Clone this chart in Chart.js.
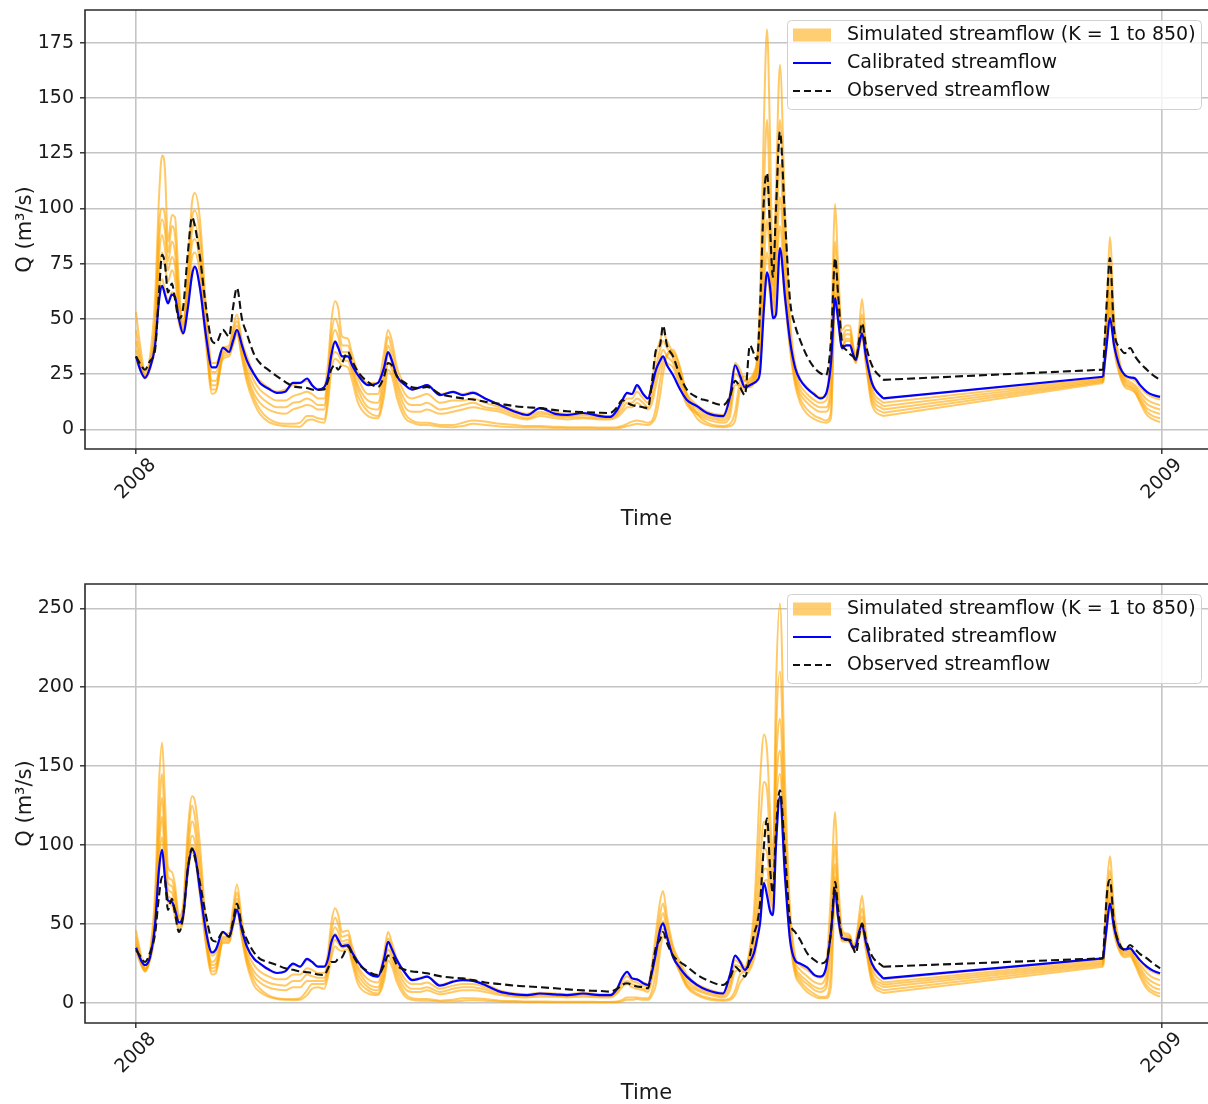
<!DOCTYPE html>
<html>
<head>
<meta charset="utf-8">
<script src="https://cdn.jsdelivr.net/npm/chart.js@4.4.1/dist/chart.umd.min.js"></script>
<style>
  html, body { margin: 0; padding: 0; background: #fff; overflow: hidden; }
  .panel { position: absolute; left: 0; width: 1208px; height: 530px; }
</style>
</head>
<body>
<div class="panel" style="top:0"><canvas id="topChart"></canvas></div>
<div class="panel" style="top:574px"><canvas id="botChart"></canvas></div>
<script>
// day of year 2008 (0 = 1 Jan 2008), common to every series
const days = [
  0, 1.8, 3.2, 5.0, 6.8, 8.2, 9.3, 10.3, 11.4, 12.8,
  13.9, 15.3, 16.8, 18.5, 20.0, 21.0, 22.8, 25.0, 27.1, 28.5,
  31.0, 33.2, 34.6, 36.0, 37.8, 39.6, 42.1, 44.2, 47.1, 50.3,
  53.2, 56.0, 58.5, 61.0, 62.8, 64.9, 67.1, 68.5, 69.6, 71.0,
  72.1, 73.5, 75.6, 77.1, 79.2, 82.8, 86.3, 88.5, 89.9, 91.3,
  93.1, 96.0, 98.5, 101.3, 103.8, 108.4, 113.1, 116.6, 120.2, 124.5,
  129.8, 135.2, 139.5, 144.1, 149.5, 153.7, 159.5, 165.5, 169.1, 171.6,
  173.4, 175.2, 176.9, 178.7, 180.9, 182.6, 184.1, 185.5, 186.9, 188.0,
  189.4, 191.6, 194.1, 196.5, 200.1, 203.7, 209.4, 211.9, 213.7, 215.5,
  217.2, 219.0, 220.5, 221.5, 222.6, 224.0, 225.1, 226.2, 227.2, 228.3,
  229.7, 231.5, 233.3, 235.1, 236.9, 239.4, 242.2, 244.0, 246.1, 247.9,
  249.4, 250.4, 251.9, 253.3, 254.7, 255.8, 256.8, 257.9, 259.0, 260.4,
  262.5, 266.5, 345.0, 346.4, 347.4, 348.9, 351.0, 352.8, 354.6, 356.4,
  358.2, 360.6, 362.8, 365.3
];
// record gap (no data between these two days, drawn as a straight link)
const gapStart = 266.5;
const gapEnd = 345.0;

const xTickDays = [0, 366];
const xTickText = ['2008', '2009'];
const yTicksTop = [0, 25, 50, 75, 100, 125, 150, 175];
const yTicksBot = [0, 50, 100, 150, 200, 250];
const legendLabels = ['Simulated streamflow (K = 1 to 850)', 'Calibrated streamflow', 'Observed streamflow'];

// ---------- top panel ----------
const obsTop = [
  33, 29, 27, 31, 36, 62, 79, 75, 62, 66,
  59, 50, 55, 80, 96, 92, 78, 55, 40, 39,
  45, 42, 55, 64, 50, 43, 34, 30, 27, 24,
  21.5, 19.5, 19, 18.7, 18, 17.8, 18, 22, 27, 29,
  27, 30, 35, 31, 26, 21.4, 19.2, 24, 30, 29,
  24, 21, 19, 18.7, 19.2, 16, 14.7, 14, 13.5, 12.5,
  11.5, 10.5, 10, 9.6, 8.7, 8.2, 7.8, 7.5, 7.4, 10,
  13.3, 12, 11, 10.5, 10, 9.6, 22, 36, 38, 47,
  38, 33, 24, 18, 14.5, 13, 11, 15, 22, 19,
  15.5, 38, 34, 31.4, 55, 105, 116, 90, 69, 100,
  134.6, 95, 58.5, 47, 40.4, 33, 27.5, 25.5, 24.5, 40,
  77.5, 62, 39, 36, 34, 33, 31.4, 40, 48, 38,
  29, 22.4, 27, 60, 77.5, 45, 37, 34.5, 36.8, 33,
  30, 27, 24.5, 22.4
];
const calTop = [
  33, 26, 23.3, 28, 38, 58, 65, 61, 57, 61,
  60, 50, 43.5, 55, 70, 73.5, 64, 42, 28, 28,
  37, 35, 40, 45, 38, 31, 25, 21, 18.5, 16.5,
  17, 21, 21, 23, 20, 18, 19, 24, 33, 39.7,
  37, 33, 33, 29, 24.5, 20, 21, 28, 35, 31,
  24, 20, 18, 19, 20, 15.5, 17, 15.5, 16.5, 14,
  11, 8, 6.5, 9.6, 7, 6.5, 7.4, 6, 5.6, 8.7,
  13, 16.5, 16, 20, 16, 14, 20, 27, 31, 33,
  29, 24.5, 18, 13.3, 10.5, 7.4, 6, 15, 29, 24,
  19, 20, 21, 22, 26, 55, 71, 64, 50.3, 52,
  82, 60, 40, 28, 22.4, 18.5, 15.5, 14, 16, 30,
  59.4, 50, 36.8, 38, 38, 34, 31.4, 38, 43.5, 33,
  21, 14, 23.8, 40, 50.3, 38, 28, 24.5, 23.5, 23,
  20, 17, 15.5, 14.7
];
const simTop1 = [
  53, 35, 26, 33, 60, 105, 124, 118, 85, 97,
  96, 66, 48, 75, 103, 107, 95, 55, 30, 30,
  37, 38, 46, 52, 40, 33, 25, 22, 19, 17,
  18, 20, 21, 22, 20, 18, 19, 30, 48, 58,
  55, 42, 41, 34, 26, 21, 21, 35, 45, 40,
  28, 20, 18, 19, 20, 16, 17, 16, 17, 14,
  11, 8.5, 7, 9.5, 7.5, 7, 7.5, 6.5, 6, 8,
  13, 16, 16, 19, 16, 14, 22, 34, 40, 44,
  40, 34, 25, 16, 11, 8, 6.5, 16, 30, 27,
  22, 23, 26, 32, 60, 140, 181, 130, 70, 110,
  165, 100, 50, 30, 23, 19, 16, 14.5, 16, 40,
  102, 75, 45, 47, 47, 38, 33, 45, 59, 38,
  22, 14, 23.5, 60, 87, 50, 30, 24, 23, 22,
  19, 16, 14.5, 13.5
];
const simTop2 = [
  45, 31, 25, 30, 50, 92, 100, 97, 80, 92,
  88, 60, 47, 70, 96, 99, 88, 50, 26, 26,
  36, 37, 44, 49, 38, 30, 22, 18, 15, 13,
  13, 15, 16, 17, 16, 14, 14, 25, 42, 50,
  47, 38, 38, 31, 23, 16, 16, 30, 42, 36,
  25, 16, 14, 15, 16, 12, 13, 13, 14, 12,
  10, 7.5, 6, 8, 6.5, 6, 6.5, 5.5, 5.5, 7,
  11, 14, 14, 17, 14, 12, 18, 28, 36, 40,
  37, 32, 23, 14, 9.5, 6.5, 5, 12, 28, 25,
  20, 22, 25, 30, 50, 110, 140, 100, 65, 95,
  140, 85, 45, 27, 20, 16, 13, 12, 13, 30,
  85, 65, 42, 45, 45, 37, 32, 42, 52, 35,
  19, 12, 23, 52, 75, 46, 28, 23, 21.5, 20,
  17, 13.5, 12, 11
];
const simTop3 = [
  40, 29, 24, 29, 46, 85, 95, 90, 76, 85,
  80, 57, 46, 66, 90, 93, 80, 45, 22, 22,
  35, 36, 42, 47, 36, 27, 19, 15, 12, 10,
  10, 12, 12.5, 14, 13, 11, 11, 22, 38, 45,
  42, 35, 35, 29, 20, 13, 12, 26, 38, 32,
  22, 13, 11, 11, 12, 9, 10, 11, 12, 10,
  9, 6.5, 5, 7, 6, 5.5, 5.5, 5, 5, 6.5,
  9, 12, 12, 14, 12, 10, 15, 24, 32, 36,
  33, 30, 21, 12, 8, 5.5, 4, 9, 25, 23,
  19, 21, 24, 28, 42, 90, 115, 85, 60, 85,
  120, 75, 42, 25, 18, 14, 11, 10, 10, 22,
  75, 60, 40, 43, 43, 36, 31.5, 40, 48, 33,
  17, 10.5, 22.5, 48, 68, 42, 27, 22, 20.5, 19,
  15.5, 11.5, 10, 9
];
const simTop4 = [
  36, 28, 24, 28, 43, 78, 88, 82, 72, 78,
  74, 55, 45, 63, 84, 86, 75, 42, 20, 20,
  34, 35, 40, 45, 35, 25, 16, 12, 9, 7.5,
  7, 9, 10, 11, 10.5, 9, 9, 20, 35, 40,
  38, 33, 33, 27, 18, 10, 9, 22, 34, 30,
  20, 10, 8, 8, 9, 7, 8, 9, 10, 9,
  8, 5.5, 4.5, 6, 5, 4.5, 5, 4.5, 4.5, 5.5,
  7.5, 10, 10, 12, 10, 9, 12, 20, 28, 32,
  30, 28, 19, 11, 7, 4.5, 3, 6, 20, 20,
  18, 20, 23, 26, 36, 75, 95, 75, 56, 75,
  105, 68, 40, 23, 16, 12, 9, 8, 8, 16,
  68, 55, 38, 41, 41, 35, 31, 38, 45, 31,
  15, 9, 22, 44, 62, 40, 26, 21, 19.5, 18,
  14, 9.5, 8, 7
];
const simTop5 = [
  33, 27, 24, 28, 40, 70, 80, 74, 67, 72,
  68, 52, 44, 60, 78, 80, 70, 40, 18, 18,
  33, 34, 39, 44, 33, 23, 14, 9, 5, 3,
  2.5, 2.5, 3, 6, 6, 5, 4.5, 15, 30, 35,
  34, 31, 31, 25, 15, 8, 6, 18, 30, 27,
  17, 7, 4, 3, 3, 2, 2, 3, 4, 3.5,
  2.5, 2, 1.5, 1.5, 1.2, 1, 1, 0.8, 0.8, 1,
  1.5, 2.5, 3.5, 4, 3.5, 3, 4, 10, 22, 30,
  34, 36, 28, 16, 7, 3, 1.5, 2.5, 8, 22,
  24, 20, 22, 25, 32, 65, 80, 68, 52, 68,
  92, 62, 38, 22, 14, 9, 6, 5, 4, 8,
  62, 52, 37, 40, 40, 34, 30.5, 37, 43, 30,
  13, 7.5, 21.5, 42, 58, 38, 25, 20, 19, 17,
  13, 8, 6, 5
];
const simTop6 = [
  31, 26, 23, 27, 38, 62, 68, 63, 58, 62,
  60, 48, 43, 56, 72, 74, 64, 38, 16, 17,
  32, 33, 38, 43, 32, 21, 12, 7, 3.5, 2,
  1.5, 1.3, 1.2, 4, 4.5, 3.5, 3, 12, 26, 32,
  31, 29, 28, 22, 12, 6, 5, 15, 27, 24,
  14, 5, 3, 2, 2, 1.2, 1, 1.5, 2.5, 2,
  1.3, 1, 0.8, 0.8, 0.6, 0.5, 0.5, 0.4, 0.4, 0.5,
  0.8, 1.5, 2, 2.5, 2.2, 2, 3, 6, 15, 25,
  33, 35, 27, 14, 5, 2, 1, 1.5, 4, 18,
  22, 19, 21, 24, 28, 55, 70, 60, 50, 60,
  80, 58, 36, 20, 12, 7, 4.5, 3.5, 3, 5,
  58, 50, 36, 38, 38, 33, 30, 36, 42, 29,
  11, 6, 21, 40, 55, 36, 24, 19, 18, 16.5,
  12, 6.5, 4.5, 3.3
];

// ---------- bottom panel ----------
const obsBot = [
  33.5, 29, 26, 32, 44, 68, 80, 78, 59, 66,
  57, 45, 55, 85, 98, 92, 76, 55, 40, 39,
  45, 42, 52, 63, 48, 40, 32, 28, 26, 24,
  22, 21, 20, 19.5, 19, 18, 17.7, 22, 26, 26,
  28, 29, 35.6, 31, 25, 20, 17.7, 24, 30, 30,
  24, 21, 20, 19.5, 18.8, 17, 16, 15.6, 14.5, 13,
  12, 11, 10.5, 10, 9.3, 8.7, 8, 7.6, 7.2, 9,
  11.5, 12.5, 11.5, 10.5, 10, 9.3, 22, 35.6, 40, 45,
  38, 30, 26, 23, 18, 14.5, 11.4, 16, 23, 20,
  16.7, 30, 44, 50, 63, 100, 117, 85, 69.6, 110,
  134.8, 95, 52, 45, 40, 31.6, 27, 25, 26.5, 45,
  76.8, 60, 42, 40, 40, 35, 31.4, 42, 50.4, 40,
  30, 23, 28.3, 70, 78, 50, 37, 33.5, 36.7, 34,
  31, 28.3, 25, 22
];
const calBot = [
  35, 27, 24, 29, 50, 85, 97, 80, 65, 64,
  59, 51, 55, 85, 97, 94, 71.5, 45, 32, 34,
  45, 42, 50, 59, 46, 35.6, 28, 25, 21.5, 19,
  20, 25, 23, 28, 26, 23, 23, 28, 38, 43,
  40, 36, 36.7, 32, 26, 19, 16.7, 28, 38.8, 34,
  27, 19, 14.5, 15.5, 16.7, 11, 13.5, 14.5, 14, 11.4,
  7.2, 5.5, 5, 6, 5.5, 5, 6, 5, 5, 9,
  16, 19.8, 15.6, 15, 12.5, 11.4, 20, 32, 46, 50.4,
  42, 29, 22, 16.7, 11.5, 8.2, 6, 18, 30, 26,
  21, 26, 32, 40, 50.4, 76, 68, 58, 55.7, 100,
  131, 80, 40, 27, 25, 22.5, 17.5, 16.7, 22, 45,
  71.5, 55, 41, 40.5, 39, 35, 36, 45, 49.4, 38,
  25, 15.6, 28.3, 50, 63, 48, 35.6, 34, 34.6, 31,
  27, 23, 20.5, 18.8
];
const simBot1 = [
  46, 30, 22, 33, 70, 140, 165, 130, 86, 83,
  75, 55, 62, 110, 131, 128, 100, 50, 30, 32,
  44, 44, 60, 75, 52, 36, 28, 25, 21, 19,
  20, 24, 23, 27, 26, 23, 23, 32, 50, 60,
  56, 45, 46, 36, 26, 19, 17, 32, 45, 38,
  28, 19, 15, 16, 17, 11.5, 14, 15, 14.5, 12,
  8, 6, 5.5, 6.5, 6, 5.5, 6.5, 5.5, 5.5, 9,
  16, 19, 16, 15, 13, 12, 25, 45, 64, 71,
  55, 36, 26, 18, 12, 9, 6.5, 18, 30, 27,
  23, 35, 60, 95, 140, 170, 160, 120, 90, 200,
  253, 140, 60, 30, 24, 21, 17, 16, 22, 70,
  121, 80, 46, 44, 43, 37, 40, 55, 68, 44,
  25, 15, 28, 75, 93, 58, 38, 34, 35, 31,
  27, 22, 19.5, 18
];
const simBot2 = [
  42, 28, 22, 31, 62, 120, 145, 112, 80, 78,
  70, 53, 60, 102, 125, 118, 90, 45, 26, 28,
  42, 42, 56, 70, 48, 33, 24, 20, 17, 15,
  15, 18, 18, 22, 21, 19, 19, 28, 44, 54,
  50, 42, 43, 33, 23, 15, 13, 28, 41, 35,
  25, 15, 12, 12, 13, 9, 11, 12, 12, 10,
  7, 5, 4.8, 5.5, 5, 4.8, 5.5, 4.8, 4.8, 8,
  14, 17, 14, 13, 11, 10, 21, 38, 56, 63,
  50, 34, 24, 16, 10.5, 7.5, 5.5, 14, 27, 25,
  22, 32, 50, 75, 110, 140, 135, 100, 80, 170,
  210, 120, 52, 27, 21, 17, 13, 12, 17, 55,
  100, 70, 44, 43, 42, 36, 38, 50, 60, 41,
  22, 13, 27, 68, 84, 54, 36, 33, 33.5, 29,
  24.5, 19, 16, 14.5
];
const simBot3 = [
  39, 27, 21, 30, 56, 108, 130, 100, 76, 74,
  66, 51, 58, 96, 115, 110, 82, 42, 24, 25,
  41, 41, 54, 66, 46, 30, 20, 16, 13, 11.5,
  11, 14, 14, 18, 17, 16, 16, 25, 40, 48,
  45, 39, 40, 31, 21, 12, 10, 24, 38, 32,
  22, 12, 9, 9, 10, 7, 9, 10, 10, 8.5,
  6, 4.5, 4.2, 5, 4.5, 4.2, 5, 4.2, 4.2, 7,
  12, 14, 12, 11, 9, 8.5, 18, 33, 50, 57,
  46, 32, 22, 14, 9, 6.5, 4.5, 11, 24, 23,
  21, 28, 42, 60, 88, 115, 110, 85, 72, 150,
  180, 105, 48, 24, 18, 14, 10, 9, 12, 45,
  88, 64, 42, 42, 41, 35.5, 37, 47, 55, 39,
  19, 11.5, 26, 62, 76, 51, 35, 32, 32.5, 27.5,
  22.5, 16, 13, 11
];
const simBot4 = [
  37, 26, 21, 29, 52, 98, 118, 92, 72, 70,
  62, 50, 56, 90, 106, 102, 76, 40, 22, 23,
  40, 40, 52, 62, 44, 28, 17, 13, 10, 8.5,
  8, 10, 10, 14, 14, 14, 14, 23, 36, 44,
  41, 37, 38, 29, 18, 10, 8, 20, 34, 29,
  19, 9, 7, 7, 8, 5.5, 7, 8, 8, 7,
  5, 4, 3.5, 4, 4, 3.5, 4, 3.5, 3.5, 6,
  10, 12, 10, 9, 8, 7, 15, 28, 45, 52,
  43, 30, 20, 12, 8, 5.5, 3.5, 8, 20, 21,
  20, 25, 36, 50, 72, 98, 95, 75, 65, 135,
  160, 95, 45, 22, 16, 12, 8, 7, 9, 35,
  80, 60, 41, 41, 40, 35, 36, 45, 51, 37,
  17, 10, 25, 56, 70, 48, 34, 31, 31.5, 26,
  20.5, 13.5, 10, 8.5
];
const simBot5 = [
  35, 25, 20, 28, 48, 90, 105, 85, 68, 66,
  58, 48, 54, 86, 100, 96, 72, 38, 20, 21,
  39, 39, 50, 60, 42, 26, 14, 9, 5, 3,
  2.5, 2.5, 3, 8, 12, 12, 12, 20, 32, 40,
  38, 35, 36, 27, 15, 8, 6, 17, 30, 26,
  16, 6, 3, 2.5, 2.5, 1.5, 2, 3, 3, 2.5,
  1.5, 1.2, 1, 1, 0.8, 0.8, 0.8, 0.7, 0.7, 1,
  2, 3.5, 3.5, 3.5, 3, 3, 8, 20, 40, 47,
  42, 30, 20, 11, 6, 3.5, 2, 3, 8, 18,
  20, 23, 32, 43, 60, 85, 85, 68, 60, 122,
  145, 88, 42, 20, 14, 9, 5.5, 4, 4, 20,
  74, 56, 40, 40, 39, 34.5, 35, 43, 48, 35,
  15, 8, 24, 52, 66, 46, 33, 30, 30.5, 25,
  18.5, 11, 7.5, 6
];
const simBot6 = [
  33, 24, 20, 27, 45, 82, 95, 78, 64, 62,
  55, 46, 52, 82, 95, 92, 68, 36, 18, 19,
  38, 38, 48, 58, 40, 24, 11, 7, 4, 2.5,
  2, 1.8, 2, 5, 9, 10, 9, 17, 28, 36,
  34, 33, 34, 25, 12, 6, 5, 14, 27, 23,
  13, 4, 2, 1.5, 1.5, 1, 1, 1.5, 1.8, 1.5,
  1, 0.8, 0.6, 0.6, 0.5, 0.5, 0.5, 0.4, 0.4, 0.5,
  1, 2, 2, 2.5, 2, 2, 5, 12, 32, 42,
  40, 29, 19, 10, 5, 2.5, 1.5, 2, 5, 13,
  17, 21, 28, 38, 52, 76, 78, 60, 56, 110,
  130, 82, 40, 18, 12, 7, 4, 3, 3, 10,
  70, 53, 39, 39, 38, 34, 34, 41, 46, 33,
  13, 6.3, 23, 48, 62, 44, 32, 29, 29.5, 24,
  16.5, 9, 6, 4
];

Chart.defaults.font.family = "'DejaVu Sans', sans-serif";
Chart.defaults.color = '#1a1a1a';

const ORANGE = 'rgba(255,165,0,0.6)';
const ORANGE_PATCH = 'rgba(255,165,0,0.55)';
const BLUE = '#0000ff';
const BLACK = '#111';
const GRID = '#c4c4c4';
const AXIS = '#2a2a2a';

const gapA = days.indexOf(gapStart);
const gapB = days.indexOf(gapEnd);

function pts(vals, from, to) {
  const out = [];
  for (let i = from; i <= to; i++) out.push({ x: days[i], y: vals[i] });
  return out;
}

// one series -> smooth part before the gap, smooth part after, straight link across
function addSeries(list, vals, style) {
  list.push(Object.assign({ data: pts(vals, 0, gapA), cubicInterpolationMode: 'monotone' }, style));
  list.push(Object.assign({ data: pts(vals, gapB, days.length - 1), cubicInterpolationMode: 'monotone' }, style));
  list.push(Object.assign({ data: pts(vals, gapA, gapB), tension: 0 }, style));
}

// matplotlib-like box around the axes (drawn over the lines)
const framePlugin = {
  id: 'frame',
  afterDatasetsDraw(chart) {
    const { ctx, chartArea: a } = chart;
    ctx.save();
    ctx.strokeStyle = AXIS;
    ctx.lineWidth = 1.6;
    ctx.beginPath();
    ctx.moveTo(a.right, a.top);
    ctx.lineTo(a.left, a.top);
    ctx.lineTo(a.left, a.bottom);
    ctx.lineTo(a.right, a.bottom);
    ctx.stroke();
    ctx.restore();
  }
};

// framed legend in the upper right corner
const legendPlugin = {
  id: 'boxLegend',
  afterDraw(chart) {
    const ctx = chart.ctx;
    const bx = 787, by = 20, bw = 414, bh = 89;
    ctx.save();
    ctx.beginPath();
    ctx.roundRect(bx + 0.5, by + 0.5, bw, bh, 4);
    ctx.fillStyle = 'rgba(255,255,255,0.8)';
    ctx.fill();
    ctx.strokeStyle = '#d0d0d0';
    ctx.lineWidth = 1;
    ctx.stroke();

    const hx = 793, hw = 38, tx = 847;
    const rows = [35, 63, 91];
    ctx.fillStyle = ORANGE_PATCH;
    ctx.fillRect(hx, rows[0] - 6.5, hw, 13);
    ctx.strokeStyle = BLUE;
    ctx.lineWidth = 2.2;
    ctx.beginPath(); ctx.moveTo(hx, rows[1]); ctx.lineTo(hx + hw, rows[1]); ctx.stroke();
    ctx.strokeStyle = BLACK;
    ctx.lineWidth = 2;
    ctx.setLineDash([7, 4]);
    ctx.beginPath(); ctx.moveTo(hx, rows[2]); ctx.lineTo(hx + hw, rows[2]); ctx.stroke();
    ctx.setLineDash([]);

    ctx.fillStyle = '#111';
    ctx.font = "19px 'DejaVu Sans', sans-serif";
    ctx.textBaseline = 'middle';
    ctx.textAlign = 'left';
    legendLabels.forEach((t, i) => ctx.fillText(t, tx, rows[i]));
    ctx.restore();
  }
};

function buildPanel(id, obs, cal, members, yMin, yMax, yTicks) {
  const datasets = [];
  addSeries(datasets, obs, { label: legendLabels[2], borderColor: BLACK, borderWidth: 2.1, borderDash: [8, 4], order: 0 });
  addSeries(datasets, cal, { label: legendLabels[1], borderColor: BLUE, borderWidth: 2.2, order: 1 });
  members.forEach(m => addSeries(datasets, m, { label: legendLabels[0], borderColor: ORANGE, borderWidth: 2, order: 2 }));

  return new Chart(document.getElementById(id), {
    type: 'line',
    data: { datasets },
    options: {
      animation: false,
      responsive: true,
      maintainAspectRatio: false,
      devicePixelRatio: 1,
      layout: { padding: { top: 10, right: 0, bottom: 0, left: 0 } },
      elements: { point: { radius: 0 }, line: { fill: false } },
      plugins: { legend: { display: false }, tooltip: { enabled: false } },
      scales: {
        x: {
          type: 'linear',
          min: -18.2,
          max: 382.4,
          afterBuildTicks: s => { s.ticks = xTickDays.map(v => ({ value: v })); },
          afterFit: s => { s.height = 81; s.paddingLeft = 0; s.paddingRight = 0; },
          ticks: {
            autoSkip: false, minRotation: 45, maxRotation: 45,
            labelOffset: 17, padding: 0,
            font: { size: 19 },
            callback: v => xTickText[xTickDays.indexOf(v)]
          },
          grid: { color: GRID, lineWidth: 1.6, tickLength: 5, tickColor: AXIS, tickWidth: 1.4 },
          border: { display: false },
          title: { display: true, text: 'Time', font: { size: 21, lineHeight: 1 }, padding: { top: 0, bottom: 0 } }
        },
        y: {
          min: yMin,
          max: yMax,
          afterBuildTicks: s => { s.ticks = yTicks.map(v => ({ value: v })); },
          afterFit: s => { s.width = 85; s.paddingTop = 0; s.paddingBottom = 0; },
          ticks: { font: { size: 19 }, padding: 6, callback: v => String(v) },
          grid: { color: GRID, lineWidth: 1.6, tickLength: 5, tickColor: AXIS, tickWidth: 1.4 },
          border: { display: false },
          title: { display: true, text: 'Q (m³/s)', font: { size: 21, lineHeight: 1.2 }, padding: { top: 13, bottom: 0 } }
        }
      }
    },
    plugins: [framePlugin, legendPlugin]
  });
}

buildPanel('topChart', obsTop, calTop, [simTop1, simTop2, simTop3, simTop4, simTop5, simTop6], -8.9, 189.8, yTicksTop);
buildPanel('botChart', obsBot, calBot, [simBot1, simBot2, simBot3, simBot4, simBot5, simBot6], -12.67, 265.4, yTicksBot);
</script>
</body>
</html>
